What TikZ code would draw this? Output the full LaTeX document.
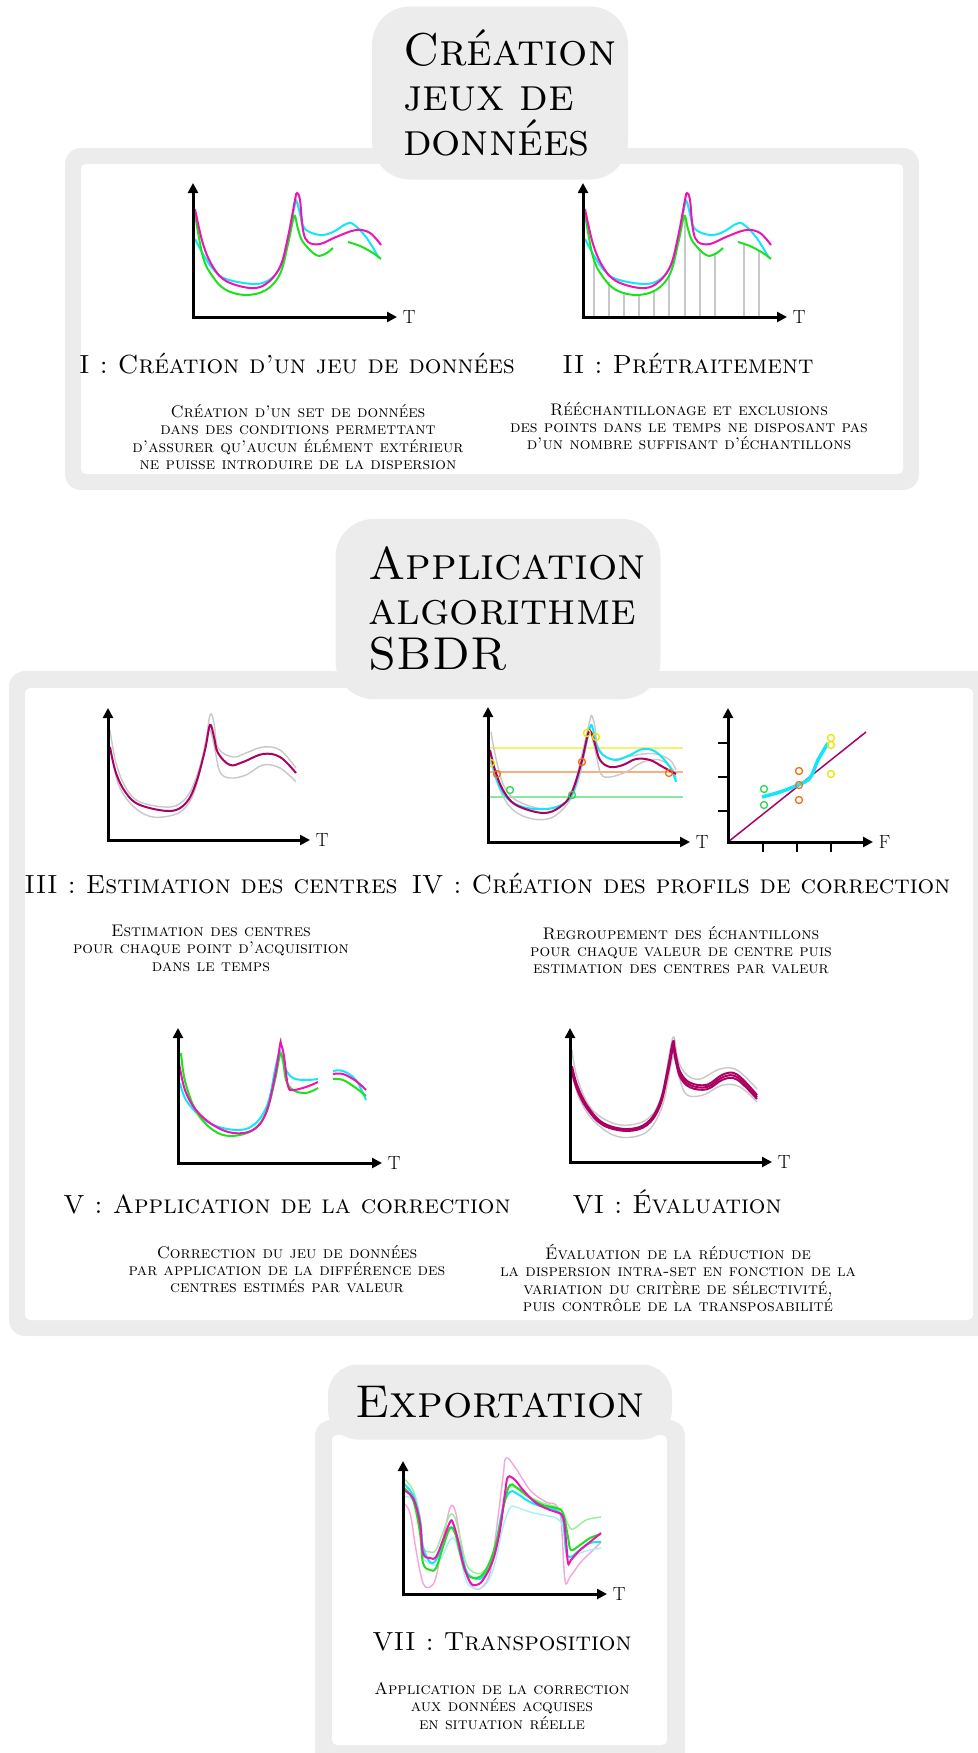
\documentclass[tikz,border=0pt]{standalone}
\usetikzlibrary{arrows.meta}

\definecolor{fondgris}{RGB}{236,236,236}
\definecolor{cmag}{RGB}{238,20,180}
\definecolor{ccyan}{RGB}{20,230,250}
\definecolor{cvert}{RGB}{30,225,30}
\definecolor{ccentre}{RGB}{172,0,100}
\definecolor{cgris}{RGB}{200,200,200}
\definecolor{cmagclair}{RGB}{245,165,215}
\definecolor{cvertclair}{RGB}{150,240,150}
\definecolor{ccyanclair}{RGB}{165,240,250}
\definecolor{cjaune}{RGB}{235,230,0}
\definecolor{corange}{RGB}{245,110,20}
\definecolor{cvertrond}{RGB}{40,215,80}

\begin{document}
\begin{tikzpicture}[
    x=1pt, y=-1pt,
    axe/.style={line width=3pt, {Triangle[length=10pt,width=10pt]}-{Triangle[length=10pt,width=10pt]}}, % axes des graphes
    axlabel/.style={right=1pt, font=\fontsize{19}{19}\selectfont},
    courbe/.style={line width=2pt, smooth, tension=0.6},
    fine/.style={line width=1.4pt, smooth, tension=0.6},
    grille/.style={cgris, line width=1.3pt},
    graduation/.style={line width=2pt},
    rond/.style={line width=1.3pt},
    titre/.style={fill=fondgris, rounded corners=38pt, align=left, inner ysep=0pt,
        font=\fontsize{46}{45}\selectfont\scshape},
    etape/.style={anchor=base, font=\fontsize{26.2}{30}\selectfont\scshape},
    desc/.style={align=center, font=\fontsize{16.8}{17.4}\selectfont\scshape}
]
    \useasboundingbox (0,0) rectangle (977,1753);

    % --- Cadres ---
    \fill[fondgris, rounded corners=16pt] (65,148) rectangle (919,490);
    \fill[white, rounded corners=5pt] (81,164) rectangle (903,474);
    \fill[fondgris, rounded corners=16pt] (9,671) rectangle (995,1336);
    \fill[white, rounded corners=5pt] (25,688) rectangle (973,1320);
    \fill[fondgris, rounded corners=16pt] (315,1420) rectangle (685,1775);
    \fill[white, rounded corners=5pt] (332,1435) rectangle (667,1745);

    % --- Titres ---
    \node[titre, minimum width=256pt, minimum height=173pt, text width=194pt, inner xsep=31pt]
        (titreA) at (500,93) {Création\\jeux de\\données};
    \node[titre, minimum width=325pt, minimum height=180pt, text width=259pt, inner xsep=33pt]
        (titreB) at (498,609) {Application\\algorithme\\SBDR};
    \node[titre, rounded corners=30pt, minimum width=344pt, minimum height=75pt]
        (titreC) at (500,1402) {Exportation};

    % --- Graphe II : echantillonnage ---
    \begin{scope}[shift={(583,317)}]
        \foreach \gx/\gy in {11/59, 26/35, 41/25, 56/21, 71/26, 86/42, 102/99, 117/68, 132/63, 161/73, 176/66}
            \draw[grille] (\gx,0) -- (\gx,-\gy);
    \end{scope}

    % --- Graphes I et II : jeux de donnees ---
    \foreach \dx/\nom in {193/I, 583/II} {
        \begin{scope}[shift={(\dx,317)}]
            \draw[courbe, ccyan] plot coordinates {(2,-78) (10,-63) (20,-48) (33,-38) (63,-33) (80,-40) (90,-57) (97,-87) (102,-113) (104,-115) (107,-103) (112,-88) (127,-82) (140,-85) (153,-93) (160,-93) (173,-80) (186,-59)};
            \draw[courbe, cvert] plot coordinates {(2,-103) (10,-60) (20,-40) (33,-27) (53,-22) (73,-27) (87,-43) (95,-73) (100,-97) (102,-101) (105,-88) (110,-75) (123,-62) (132,-63) (140,-69)};
            \draw[courbe, cvert] plot coordinates {(155,-75) (167,-71) (180,-64) (188,-58)};
            \draw[courbe, cmag] plot coordinates {(2,-108) (10,-73) (20,-50) (33,-36) (57,-29) (73,-33) (87,-50) (95,-80) (102,-117) (104,-124) (107,-117) (110,-87) (115,-75) (127,-73) (143,-80) (163,-87) (177,-84) (188,-72)};
            \draw[axe] (0,-134) -- (0,0) -- (204,0) node[axlabel] (t\nom) {T};
        \end{scope}
    }

    % --- Graphe III : estimation des centres ---
    \begin{scope}[shift={(108,840)}]
        \draw[fine, cgris] plot coordinates {(2,-110) (8,-77) (18,-52) (32,-38) (62,-33) (78,-42) (88,-62) (97,-93) (102,-125) (106,-117) (110,-92) (125,-83) (138,-87) (155,-93) (172,-90) (188,-72)};
        \draw[fine, cgris] plot coordinates {(2,-93) (10,-57) (22,-37) (38,-25) (55,-23) (75,-30) (88,-53) (98,-100) (102,-110) (107,-90) (112,-68) (122,-62) (138,-65) (155,-75) (172,-72) (188,-58)};
        \draw[courbe, ccentre] plot coordinates {(2,-93) (8,-67) (18,-47) (32,-35) (62,-29) (78,-37) (88,-57) (97,-90) (102,-115) (106,-103) (110,-87) (122,-75) (135,-78) (155,-86) (172,-83) (188,-67)};
        \draw[axe] (0,-132) -- (0,0) -- (202,0) node[axlabel] (tIII) {T};
    \end{scope}

    % --- Graphe IV (gauche) : regroupement par valeur ---
    \begin{scope}[shift={(488,842)}]
        \draw[line width=1.6pt, cjaune!55] (-1,-94) -- (195,-94);
        \draw[line width=1.6pt, corange!55] (-1,-70) -- (195,-70);
        \draw[line width=1.6pt, cvertrond!55] (-1,-45) -- (195,-45);
        \draw[fine, cgris] plot coordinates {(3,-110) (7,-88) (15,-58) (28,-42) (55,-33) (75,-38) (85,-52) (95,-92) (102,-122) (104,-126) (107,-115) (110,-95) (122,-83) (138,-85) (155,-88) (168,-88) (182,-82) (188,-72)};
        \draw[fine, cgris] plot coordinates {(2,-82) (12,-52) (25,-32) (45,-23) (65,-25) (82,-42) (92,-68) (100,-105) (103,-108) (108,-88) (113,-68) (122,-65) (138,-70) (155,-80) (172,-82) (185,-72) (188,-62)};
        \draw[courbe, ccyan] plot coordinates {(2,-92) (8,-65) (18,-45) (35,-35) (58,-33) (75,-38) (85,-50) (95,-85) (102,-115) (105,-113) (108,-98) (115,-87) (128,-82) (142,-87) (155,-93) (168,-90) (182,-75) (188,-60)};
        \draw[courbe, ccentre] plot coordinates {(2,-92) (7,-72) (15,-52) (28,-37) (55,-29) (72,-35) (83,-48) (93,-78) (100,-108) (103,-110) (107,-98) (112,-82) (122,-75) (135,-77) (148,-83) (162,-82) (175,-75) (188,-68)};
        \foreach \cx/\cy in {3/79, 99/109, 108/105}
            \draw[rond, cjaune] (\cx,-\cy) circle[radius=3.5];
        \foreach \cx/\cy in {9/68, 94/80, 181/69}
            \draw[rond, corange] (\cx,-\cy) circle[radius=3.5];
        \foreach \cx/\cy in {22/52, 84/47}
            \draw[rond, cvertrond] (\cx,-\cy) circle[radius=3.5];
        \draw[axe] (0,-135) -- (0,0) -- (202,0) node[axlabel] (tIV) {T};
    \end{scope}

    % --- Graphe IV (droite) : profil de correction ---
    \begin{scope}[shift={(728,842)}]
        \foreach \gy in {99, 65, 31}
            \draw[graduation] (-10,-\gy) -- (0,-\gy);
        \foreach \gx in {35, 69, 103}
            \draw[graduation] (\gx,0) -- (\gx,10);
        \draw[line width=1.5pt, ccentre] (0,0) -- (138,-110);
        \draw[line width=3.5pt, ccyan, smooth] plot coordinates {(34,-45) (52,-50) (70,-57) (82,-64) (90,-82) (100,-99)};
        \foreach \cy in {53, 37}
            \draw[rond, cvertrond] (36,-\cy) circle[radius=3.5];
        \foreach \cy in {71, 57, 42}
            \draw[rond, corange] (71,-\cy) circle[radius=3.5];
        \foreach \cy in {104, 97, 68}
            \draw[rond, cjaune] (103,-\cy) circle[radius=3.5];
        \draw[axe] (0,-134) -- (0,0) -- (145,0) node[axlabel] (fIV) {F};
    \end{scope}

    % --- Graphe V : application de la correction ---
    \begin{scope}[shift={(178,1163)}]
        \draw[courbe, ccyan] plot coordinates {(2,-80) (8,-63) (22,-47) (38,-37) (62,-33) (78,-40) (90,-60) (97,-93) (101,-110) (103,-110) (107,-95) (115,-85) (128,-83) (140,-84)};
        \draw[courbe, ccyan] plot coordinates {(155,-92) (165,-92) (178,-83) (188,-63)};
        \draw[courbe, cvert] plot coordinates {(3,-110) (7,-82) (18,-52) (35,-33) (53,-27) (75,-33) (88,-50) (97,-83) (102,-108) (105,-103) (108,-83) (115,-73) (128,-70) (140,-75)};
        \draw[courbe, cvert] plot coordinates {(155,-84) (165,-83) (178,-75) (188,-67)};
        \draw[courbe, cmag] plot coordinates {(1,-100) (7,-73) (18,-53) (35,-38) (55,-30) (75,-33) (88,-50) (97,-87) (102,-118) (103,-119) (106,-107) (110,-77) (115,-73) (128,-76) (140,-81)};
        \draw[courbe, cmag] plot coordinates {(155,-89) (165,-89) (178,-82) (188,-73)};
        \draw[axe] (0,-135) -- (0,0) -- (204,0) node[axlabel] (tV) {T};
    \end{scope}

    % --- Graphe VI : evaluation ---
    \begin{scope}[shift={(570,1162)}]
        \draw[fine, cgris] plot coordinates {(2,-112) (7,-85) (20,-55) (40,-40) (60,-37) (80,-45) (92,-68) (100,-112) (104,-125) (108,-102) (117,-87) (130,-83) (150,-93) (167,-92) (187,-73)};
        \draw[fine, cgris] plot coordinates {(2,-87) (10,-62) (23,-42) (43,-27) (63,-25) (80,-33) (93,-58) (101,-98) (104,-105) (110,-82) (117,-67) (133,-67) (153,-77) (170,-75) (187,-60)};
        \foreach \ech in {0.97, 1.03, 1}
            \draw[courbe, ccentre, yscale=\ech] plot coordinates {(2,-93) (7,-75) (17,-55) (33,-38) (57,-32) (77,-38) (90,-58) (98,-92) (103,-117) (105,-108) (110,-88) (120,-77) (137,-75) (153,-85) (167,-85) (187,-65)};
        \draw[axe] (0,-134) -- (0,0) -- (202,0) node[axlabel] (tVI) {T};
    \end{scope}

    % --- Graphe VII : transposition ---
    \begin{scope}[shift={(403,1594)}]
        \draw[fine, cmagclair] plot coordinates {(0,-91) (7,-81) (13,-44) (20,-11) (27,-7) (33,-17) (40,-54) (47,-86) (52,-84) (57,-57) (63,-21) (70,-7) (78,-6) (87,-21) (93,-61) (100,-117) (103,-136) (112,-127) (127,-104) (143,-92) (153,-89) (158,-74) (162,-14) (167,-17) (177,-31) (187,-41) (198,-52)};
        \draw[fine, cvertclair] plot coordinates {(0,-116) (10,-104) (17,-77) (20,-47) (27,-42) (33,-44) (40,-62) (47,-79) (52,-76) (57,-57) (63,-31) (70,-22) (80,-22) (90,-39) (97,-67) (102,-101) (107,-107) (113,-106) (127,-97) (140,-91) (153,-87) (160,-81) (167,-66) (172,-66) (183,-74) (198,-77)};
        \draw[fine, ccyanclair] plot coordinates {(0,-97) (10,-94) (17,-67) (20,-37) (27,-31) (33,-29) (40,-39) (47,-54) (52,-54) (57,-39) (63,-14) (70,-6) (80,-7) (90,-24) (100,-67) (107,-86) (113,-87) (127,-82) (140,-79) (153,-76) (160,-67) (163,-41) (168,-37) (177,-41) (187,-44) (198,-46)};
        \draw[courbe, ccyan] plot coordinates {(0,-111) (10,-99) (17,-74) (20,-47) (27,-32) (33,-34) (40,-51) (47,-66) (52,-62) (57,-47) (63,-24) (70,-16) (80,-17) (90,-36) (100,-87) (107,-102) (113,-101) (127,-92) (140,-87) (153,-84) (160,-74) (163,-44) (167,-37) (177,-44) (187,-51) (198,-52)};
        \draw[courbe, cvert] plot coordinates {(0,-107) (10,-94) (17,-61) (20,-31) (27,-24) (33,-26) (40,-47) (47,-66) (52,-61) (57,-41) (63,-21) (73,-16) (83,-24) (93,-51) (102,-94) (107,-109) (113,-107) (127,-96) (140,-89) (153,-86) (160,-81) (165,-57) (168,-44) (177,-49) (187,-56) (198,-60)};
        \draw[courbe, cmag] plot coordinates {(0,-104) (10,-96) (17,-71) (20,-41) (27,-36) (33,-37) (40,-54) (47,-72) (50,-71) (55,-54) (60,-31) (67,-12) (73,-9) (80,-14) (90,-34) (97,-64) (102,-101) (105,-117) (112,-114) (120,-104) (133,-91) (147,-84) (153,-82) (160,-77) (163,-54) (165,-31) (168,-34) (177,-44) (187,-52) (198,-61)};
        \draw[axe] (0,-133) -- (0,0) -- (204,0) node[axlabel] (tVII) {T};
    \end{scope}

    % --- Etapes et descriptions ---
    \node[etape] (etapeI) at (297,373) {I : Création d'un jeu de données};
    \node[desc] (descI) at (298,437) {Création d'un set de données\\dans des conditions permettant\\d'assurer qu'aucun élément extérieur\\ne puisse introduire de la dispersion};
    \node[etape] (etapeII) at (688,373) {II : Prétraitement};
    \node[desc] (descII) at (689,426) {Rééchantillonage et exclusions\\des points dans le temps ne disposant pas\\d'un nombre suffisant d'échantillons};

    \node[etape] (etapeIII) at (211,893) {III : Estimation des centres};
    \node[desc] (descIII) at (211,948) {Estimation des centres\\pour chaque point d'acquisition\\dans le temps};
    \node[etape] (etapeIV) at (681,893) {IV : Création des profils de correction};
    \node[desc] (descIV) at (681,950) {Regroupement des échantillons\\pour chaque valeur de centre puis\\estimation des centres par valeur};

    \node[etape] (etapeV) at (287,1213) {V : Application de la correction};
    \node[desc] (descV) at (287,1269) {Correction du jeu de données\\par application de la différence des\\centres estimés par valeur};
    \node[etape] (etapeVI) at (677,1213) {VI : Évaluation};
    \node[desc] (descVI) at (678,1278) {Évaluation de la réduction de\\la dispersion intra-set en fonction de la\\variation du critère de sélectivité,\\puis contrôle de la transposabilité};

    \node[etape] (etapeVII) at (502,1650) {VII : Transposition};
    \node[desc] (descVII) at (502,1706) {Application de la correction\\aux données acquises\\en situation réelle};

\end{tikzpicture}
\end{document}
